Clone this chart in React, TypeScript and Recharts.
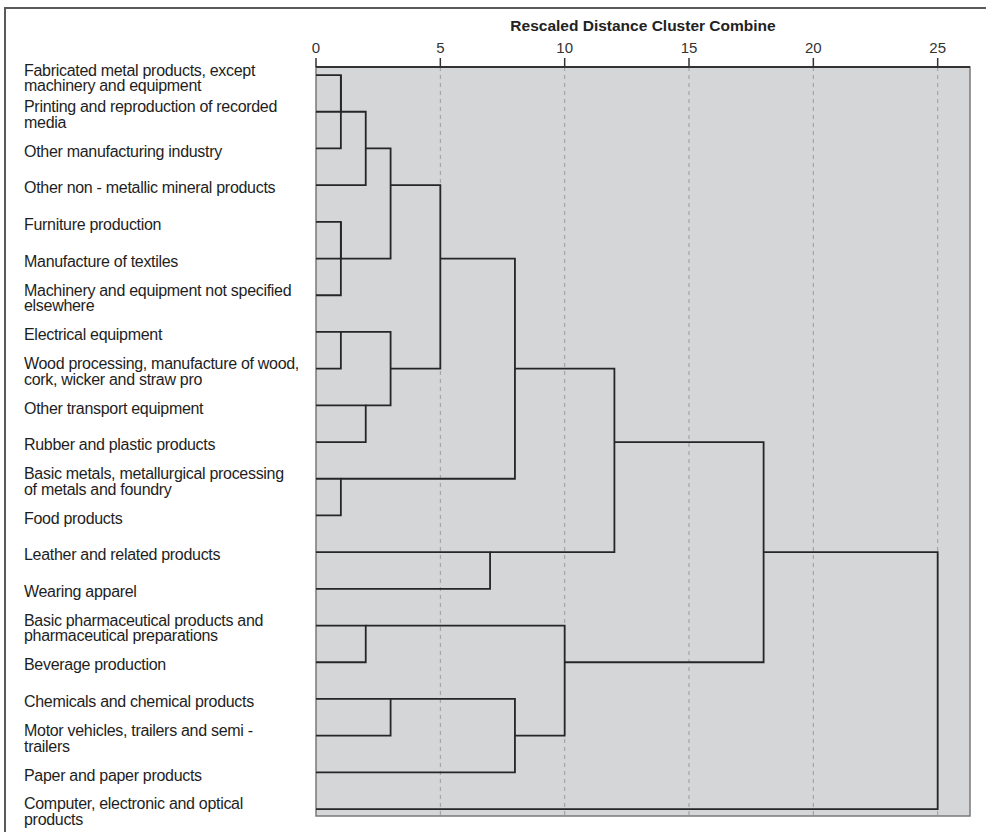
import {
  ComposedChart,
  Line,
  XAxis,
  YAxis,
  ReferenceArea,
  ReferenceLine,
  Label
} from "recharts";

// leaf labels, top to bottom
const LEAF_LABELS = [
  "Fabricated metal products, except\nmachinery and equipment",
  "Printing and reproduction of recorded\nmedia",
  "Other manufacturing industry",
  "Other non - metallic mineral products",
  "Furniture production",
  "Manufacture of textiles",
  "Machinery and equipment not specified\nelsewhere",
  "Electrical equipment",
  "Wood processing, manufacture of wood,\ncork, wicker and straw pro",
  "Other transport equipment",
  "Rubber and plastic products",
  "Basic metals, metallurgical processing\nof metals and foundry",
  "Food products",
  "Leather and related products",
  "Wearing apparel",
  "Basic pharmaceutical products and\npharmaceutical preparations",
  "Beverage production",
  "Chemicals and chemical products",
  "Motor vehicles, trailers and semi -\ntrailers",
  "Paper and paper products",
  "Computer, electronic and optical\nproducts"
];

// agglomeration schedule: merge k creates node 21 + k
const MERGE_A = [0, 21, 22, 4, 24, 23, 7, 9, 27, 26, 11, 30, 13, 32, 15, 17, 36, 35, 34, 39];
const MERGE_B = [1, 2, 3, 5, 6, 25, 8, 10, 28, 29, 12, 31, 14, 33, 16, 18, 19, 37, 38, 20];
const MERGE_DISTANCE = [1, 1, 2, 1, 1, 3, 1, 2, 3, 5, 1, 8, 7, 12, 2, 3, 8, 10, 18, 25];

const X_TICKS = [0, 5, 10, 15, 20, 25];
const ROWS = LEAF_LABELS.map((_, i) => i);

function buildLinks() {
  const pos: number[] = ROWS.slice();
  const height: number[] = ROWS.map(() => 0);
  return MERGE_A.map((a, k) => {
    const b = MERGE_B[k];
    const d = MERGE_DISTANCE[k];
    const link = [
      { x: height[a], y: pos[a] },
      { x: d, y: pos[a] },
      { x: d, y: pos[b] },
      { x: height[b], y: pos[b] }
    ];
    pos.push(Math.floor((pos[a] + pos[b]) / 2));
    height.push(d);
    return link;
  });
}

const LINKS = buildLinks();

function LeafTick(props: any) {
  const { y, payload } = props;
  const lines = LEAF_LABELS[payload.value].split("\n");
  const lh = 15.5;
  const first = y + 2.5 - ((lines.length - 1) * lh) / 2 + 5.7;
  return (
    <text fill="#1e1e1e" fontSize={16} letterSpacing={-0.3}>
      {lines.map((l, i) => (
        <tspan key={i} x={24} y={first + i * lh}>
          {l}
        </tspan>
      ))}
    </text>
  );
}

export default function App() {
  return (
    <div
      style={{
        position: "absolute",
        left: 0,
        top: 0,
        width: 986,
        height: 832,
        overflow: "hidden",
        background: "#fff"
      }}
    >
      <div
        style={{
          position: "absolute",
          left: 4,
          top: 7,
          width: 2000,
          height: 2000,
          borderLeft: "2px solid #5a5a5a",
          borderTop: "2px solid #5a5a5a"
        }}
      />
      <ComposedChart
        width={986}
        height={832}
        margin={{ top: 37, right: 16, bottom: 16, left: 0 }}
        style={{ fontFamily: "'Liberation Sans', Arial, sans-serif", position: "absolute", left: 0, top: 0 }}
      >
        <XAxis
          type="number"
          dataKey="x"
          orientation="top"
          domain={[0, 26.3]}
          ticks={X_TICKS}
          interval={0}
          allowDataOverflow
          height={30}
          tickSize={9}
          tickMargin={5}
          axisLine={{ stroke: "#333", strokeWidth: 2 }}
          tickLine={{ stroke: "#333", strokeWidth: 1.5 }}
          tick={{ fill: "#333", fontSize: 15 }}
        >
          <Label
            value="Rescaled Distance Cluster Combine"
            position="top"
            offset={6}
            style={{ fontWeight: 700, fontSize: 15.5, fill: "#222" }}
          />
        </XAxis>
        <YAxis
          type="number"
          domain={[-0.22, 20.19]}
          reversed
          ticks={ROWS}
          interval={0}
          width={316}
          axisLine={false}
          tickLine={false}
          tick={<LeafTick />}
          allowDataOverflow
        />
        <ReferenceArea
          x1={0}
          x2={26.3}
          fill="#d5d6d8"
          fillOpacity={1}
          stroke="#7a7a7a"
          strokeWidth={1.5}
        />
        {X_TICKS.slice(1).map((v) => (
          <ReferenceLine key={v} x={v} stroke="#9c9c9c" strokeDasharray="4 4" />
        ))}
        {LINKS.map((link, i) => (
          <Line
            key={i}
            data={link}
            dataKey="y"
            type="linear"
            stroke="#262626"
            strokeWidth={1.8}
            dot={false}
            activeDot={false}
            isAnimationActive={false}
          />
        ))}
      </ComposedChart>
    </div>
  );
}
